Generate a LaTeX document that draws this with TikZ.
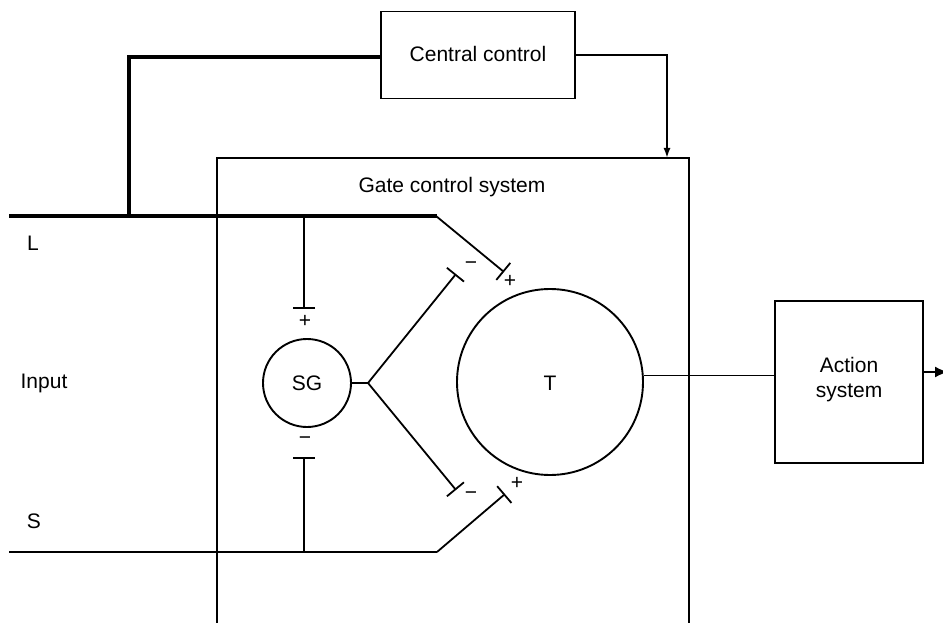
\documentclass[tikz,border=0pt]{standalone}
\usepackage{fontspec}
\setmainfont{Liberation Sans}
\usetikzlibrary{arrows.meta}
\begin{document}
\begin{tikzpicture}[x=1pt,y=-1pt,
  thin line/.style={line width=1.8pt},
  thick line/.style={line width=4pt},
  boxstyle/.style={draw,line width=1.9pt,rectangle,inner sep=0pt},
  circstyle/.style={draw,line width=1.9pt,circle,inner sep=0pt},
  lbl/.style={font=\fontsize{21}{25}\selectfont,inner sep=0pt},
  sign/.style={font=\fontsize{21}{25}\selectfont,inner sep=0pt},
  teeend/.style={thin line,-{Bar[width=22pt,line width=1.8pt]}}]
\path[use as bounding box,clip] (0,0) rectangle (943,623);
\fill[white] (0,0) rectangle (943,623);

% boxes and circles
\node[boxstyle,minimum width=194pt,minimum height=87pt] (central) at (478,55) {};
\node[lbl] (centraltxt) at (478,54) {Central control};
\node[boxstyle,minimum width=472pt,minimum height=490pt] (gate) at (453,403) {};
\node[lbl] (gatetxt) at (452,187) {Gate control system};
\node[circstyle,minimum size=88pt] (SG) at (307,383) {};
\node[lbl] (SGtxt) at (307,383) {SG};
\node[circstyle,minimum size=186pt] (T) at (550,382) {};
\node[lbl] (Ttxt) at (550,383) {T};
\node[boxstyle,minimum width=148pt,minimum height=162pt] (action) at (849,382) {};
\node[lbl,align=center] (actiontxt) at (849,380) {Action\\system};

% labels
\node[lbl] (Llbl) at (33,243) {L};
\node[lbl] (inputlbl) at (44,383) {Input};
\node[lbl] (Slbl) at (34,521) {S};

% coordinates
\coordinate (Lstart) at (9,216);
\coordinate (Lbend) at (437,216);
\coordinate (Ljoin) at (129,216);
\coordinate (Lsg) at (304,216);
\coordinate (ccleft) at (129,57);
\coordinate (ccright) at (667,55);
\coordinate (gatetop) at (667,158);
\coordinate (Sstart) at (9,552);
\coordinate (Sbend) at (437,552);
\coordinate (Ssg) at (304,552);
\coordinate (tLplus) at (504,272);
\coordinate (tSplus) at (505,494);
\coordinate (tSGplus) at (304,309);
\coordinate (tSGminus) at (304,457);
\coordinate (sgj) at (368,383);
\coordinate (tUminus) at (456,274);
\coordinate (tDminus) at (456,490);
\coordinate (outend) at (948,372);

% L fibre
\draw[thick line] (Lstart) -- (Lbend);
\draw[thick line] (Ljoin) -- (ccleft) -- (central.west |- ccleft);
\draw[thin line,-{Latex[length=10pt,width=7pt]}] (central.east |- ccright) -- (ccright) -- (gatetop);
\draw[teeend] ([xshift=-1pt]Lbend) -- (tLplus);
\draw[teeend] (Lsg) -- (tSGplus);

% S fibre
\draw[thin line] (Sstart) -- (Sbend);
\draw[teeend] (Sbend) -- (tSplus);
\draw[teeend] (Ssg) -- (tSGminus);

% SG output
\draw[thin line] (SG.east) -- (sgj);
\draw[teeend] (sgj) -- (tUminus);
\draw[teeend] (sgj) -- (tDminus);

% T output
\draw[thin line] (T.4) -- (T.4 -| action.west);
\draw[thin line,-{Latex[length=13pt,width=11pt]}] (action.east |- outend) -- (outend);

% signs
\node[sign] (s1) at (510,281) {+};
\node[sign] (s2) at (471,266) {\textminus};
\node[sign] (s3) at (471,496) {\textminus};
\node[sign] (s4) at (517,483) {+};
\node[sign] (s5) at (305,321) {+};
\node[sign] (s6) at (305,441) {\textminus};
\end{tikzpicture}
\end{document}
